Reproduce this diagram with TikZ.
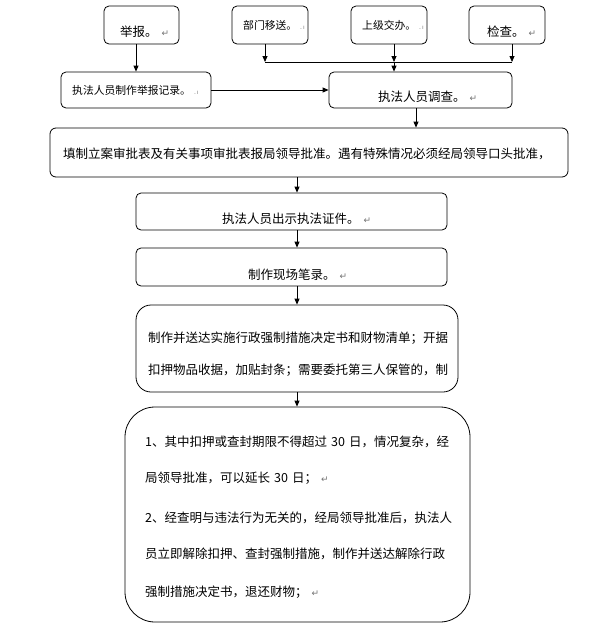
\documentclass[tikz,border=0pt]{standalone}
\usepackage{fontspec}
\setmainfont{Noto Sans CJK SC}
\newfontfamily\symfnt{DejaVu Sans}
\usetikzlibrary{arrows.meta}
\newcommand{\retmark}{\hspace{4pt}{\symfnt\color{black!55}\fontsize{9}{9}\selectfont ↵}}
\newcommand{\brkmark}{\hspace{3pt}{\symfnt\color{black!50}\fontsize{6}{6}\selectfont .\,ı}}
\newcommand{\wsp}{\hspace{4pt}}
\tikzset{
  box/.style={draw, line width=0.8pt, inner sep=0pt, rounded corners=5pt},
  arr/.style={line width=0.8pt, -{Triangle[length=6pt,width=5pt]}},
  ln/.style={line width=0.8pt},
  lbl/.style={anchor=west, inner sep=0pt, font=\fontsize{12.5}{12.5}\selectfont},
  lbls/.style={anchor=west, inner sep=0pt, font=\fontsize{10.8}{10.8}\selectfont}
}
\begin{document}
\begin{tikzpicture}[x=1pt,y=-1pt]
\useasboundingbox[fill=white] (0,0) rectangle (593,643);
% boxes
\node[box, minimum width=75pt, minimum height=38pt] (jb) at (141.5,25) {};
\node[box, minimum width=76pt, minimum height=38pt] (bm) at (270,25) {};
\node[box, minimum width=76pt, minimum height=38pt] (sj) at (389,25) {};
\node[box, minimum width=76pt, minimum height=38pt] (jc) at (507,25) {};
\node[box, minimum width=150pt, minimum height=36pt] (jl) at (136,90) {};
\node[box, minimum width=183pt, minimum height=36pt] (dc) at (420.5,90) {};
\node[box, minimum width=518pt, minimum height=49pt, rounded corners=6pt] (tz) at (309,152.5) {};
\node[box, minimum width=311pt, minimum height=37pt] (cs) at (291.5,211.5) {};
\node[box, minimum width=311pt, minimum height=38pt] (bl) at (291.5,267) {};
\node[box, minimum width=322pt, minimum height=87pt, rounded corners=15pt] (kj) at (297,348.5) {};
\node[box, minimum width=345pt, minimum height=215pt, rounded corners=30pt] (lt) at (297.5,514.5) {};
% texts
\node[lbl] (tjb) at (120,32) {举报。\retmark};
\node[lbls] (tbm) at (243,25) {部门移送。\brkmark};
\node[lbls] (tsj) at (362,25) {上级交办。\brkmark};
\node[lbl] (tjc) at (487,32) {检查。\retmark};
\node[lbls] (tjl) at (72,90) {执法人员制作举报记录。\brkmark};
\node[lbl] (tdc) at (378,97) {执法人员调查。\retmark};
\node[lbl] (ttz) at (63,154) {填制立案审批表及有关事项审批表报局领导批准。遇有特殊情况必须经局领导口头批准，};
\node[lbl] (tcs) at (222,219) {执法人员出示执法证件。\retmark};
\node[lbl] (tbl) at (248,275) {制作现场笔录。\retmark};
\node[lbl] (tkj1) at (148,338) {制作并送达实施行政强制措施决定书和财物清单；开据};
\node[lbl] (tkj2) at (148,370) {扣押物品收据，加贴封条；需要委托第三人保管的，制};
\node[lbl] (tl1) at (145,442) {1、其中扣押或查封期限不得超过\wsp 30\wsp 日，情况复杂，经};
\node[lbl] (tl2) at (145,478) {局领导批准，可以延长\wsp 30\wsp 日；\retmark};
\node[lbl] (tl3) at (145,518) {2、经查明与违法行为无关的，经局领导批准后，执法人};
\node[lbl] (tl4) at (145,554) {员立即解除扣押、查封强制措施，制作并送达解除行政};
\node[lbl] (tl5) at (145,592) {强制措施决定书，退还财物；\retmark};
% connector helpers
\coordinate (p1) at (265,62);
\coordinate (p2) at (394,62);
\coordinate (p3) at (512,62);
\coordinate (c1) at (416,0);
\coordinate (c2) at (297,0);
% connectors
\draw[arr] (jb.south -| jl.north) -- (jl.north);
\draw[arr] (bm.south -| p1) -- (p1);
\draw[arr] (sj.south -| p2) -- (p2);
\draw[arr] (jc.south -| p3) -- (p3);
\draw[ln] (p1) -- (p3);
\draw[arr] (p2) -- (dc.north -| p2);
\draw[arr] (jl.east) -- (dc.west);
\draw[arr] (dc.south -| c1) -- (tz.north -| c1);
\draw[arr] (tz.south -| c2) -- (cs.north -| c2);
\draw[arr] (cs.south -| c2) -- (bl.north -| c2);
\draw[arr] (bl.south -| c2) -- (kj.north -| c2);
\draw[arr] (kj.south -| c2) -- (lt.north -| c2);
\end{tikzpicture}
\end{document}
